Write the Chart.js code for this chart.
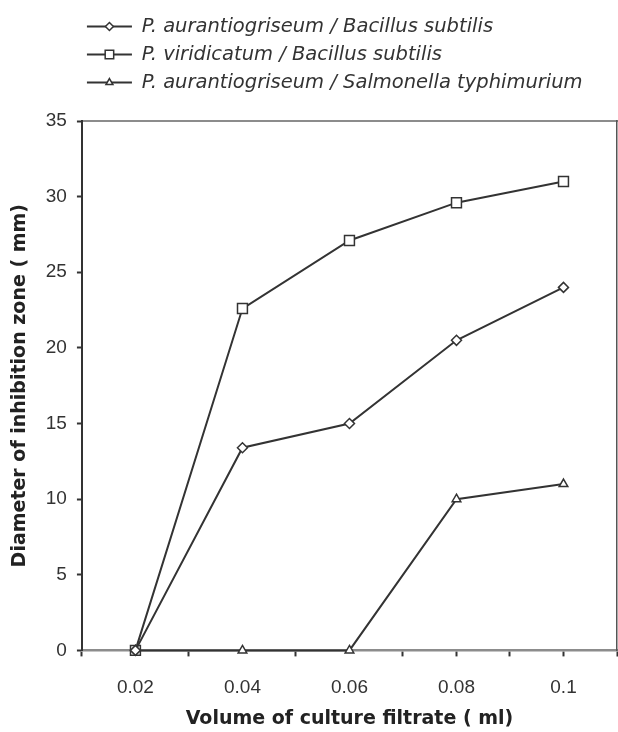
<!DOCTYPE html>
<html>
<head>
<meta charset="utf-8">
<script src="https://cdn.jsdelivr.net/npm/chart.js@4.4.1/dist/chart.umd.min.js"></script>
<style>
  html, body { margin: 0; padding: 0; background: #fff; }
  #wrap { width: 618px; height: 732px; position: relative; }
</style>
</head>
<body>
<div id="wrap"><canvas id="inhibitionChart"></canvas></div>
<script>
// volume of culture filtrate (ml)
const xValues = [0.02, 0.04, 0.06, 0.08, 0.1];
const xTickLabels = ['0.02', '0.04', '0.06', '0.08', '0.1'];
// little tick marks on the x axis (they do not sit on the labels)
const xTickMarks = [0.01, 0.03, 0.05, 0.07, 0.08, 0.09, 0.1, 0.11];

const seriesNames = [
  'P. aurantiogriseum / Bacillus subtilis',
  'P. viridicatum / Bacillus subtilis',
  'P. aurantiogriseum / Salmonella typhimurium'
];
// diameter of inhibition zone (mm)
const aurantioBacillus = [0, 13.4, 15.0, 20.5, 24.0];
const viridicatumBacillus = [0, 22.6, 27.1, 29.6, 31.0];
const aurantioSalmonella = [0, 0, 0, 10.0, 11.0];

const yTicks = [0, 5, 10, 15, 20, 25, 30, 35];

const ink = '#333';
const same = (a, b) => Math.abs(a - b) < 1e-9;
const allXTicks = [...new Set([...xValues, ...xTickMarks].map(v => +v.toFixed(3)))].sort((a, b) => a - b);

const toPoints = (arr) => arr.map((y, i) => ({ x: xValues[i], y: y }));

function series(label, data, pointStyle, radius) {
  return {
    label: label,
    data: toPoints(data),
    borderColor: ink,
    borderWidth: 2,
    pointStyle: pointStyle,
    pointRadius: radius,
    pointBackgroundColor: '#fff',
    pointBorderColor: ink,
    pointBorderWidth: 1.5,
    tension: 0,
    clip: false
  };
}

// draws the line + marker sample in front of each legend text
const legendSamples = {
  id: 'legendSamples',
  afterDraw(chart) {
    const legend = chart.legend;
    if (!legend || !legend.legendHitBoxes) return;
    const ctx = chart.ctx;
    const boxW = legend.options.labels.boxWidth;
    legend.legendHitBoxes.forEach((hb, i) => {
      const ds = chart.data.datasets[i];
      const y = hb.top + hb.height / 2;
      ctx.save();
      ctx.strokeStyle = ink;
      ctx.lineWidth = 2;
      ctx.beginPath();
      ctx.moveTo(hb.left, y);
      ctx.lineTo(hb.left + boxW, y);
      ctx.stroke();
      ctx.fillStyle = '#fff';
      ctx.lineWidth = 1.5;
      Chart.helpers.drawPoint(ctx, {
        pointStyle: ds.pointStyle,
        radius: ds.pointRadius - 1,
        rotation: 0,
        borderWidth: 1.5
      }, hb.left + boxW / 2, y);
      ctx.restore();
    });
  }
};

const ctx = document.getElementById('inhibitionChart');

new Chart(ctx, {
  type: 'line',
  data: {
    datasets: [
      series(seriesNames[0], aurantioBacillus, 'rectRot', 5),
      series(seriesNames[1], viridicatumBacillus, 'rect', 7),
      series(seriesNames[2], aurantioSalmonella, 'triangle', 5)
    ]
  },
  plugins: [legendSamples],
  options: {
    responsive: true,
    maintainAspectRatio: false,
    animation: false,
    layout: {
      autoPadding: false,
      padding: { top: 10, right: 1, bottom: 2, left: 0 }
    },
    plugins: {
      tooltip: { enabled: false },
      legend: {
        position: 'top',
        align: 'start',
        fullSize: false,
        labels: {
          color: ink,
          font: { family: 'DejaVu Sans', size: 19.5, style: 'italic' },
          boxWidth: 45,
          boxHeight: 23,
          padding: 5,
          generateLabels: (chart) => chart.data.datasets.map((ds, i) => ({
            text: ds.label,
            fillStyle: 'transparent',
            strokeStyle: 'transparent',
            lineWidth: 0,
            fontColor: ink,
            datasetIndex: i
          }))
        }
      }
    },
    scales: {
      x: {
        type: 'linear',
        position: 'bottom',
        min: 0.01,
        max: 0.11,
        afterBuildTicks: (axis) => {
          axis.ticks = allXTicks.map(v => ({ value: v }));
        },
        ticks: {
          autoSkip: false,
          maxRotation: 0,
          padding: 0,
          color: ink,
          font: { family: 'Liberation Sans', size: 19, lineHeight: 1.1 },
          // empty first line pushes the label down without widening the axis
          callback: (value) => {
            const i = xValues.findIndex(v => same(v, value));
            return i >= 0 ? ['', xTickLabels[i]] : '';
          }
        },
        grid: {
          drawOnChartArea: false,
          tickLength: 6,
          tickWidth: 2,
          tickColor: (c) => (c.tick && xTickMarks.some(v => same(v, c.tick.value))) ? ink : 'transparent'
        },
        border: { color: '#8c8c8c', width: 2.5 },
        title: {
          display: true,
          text: 'Volume of culture filtrate ( ml)',
          color: '#222',
          font: { family: 'DejaVu Sans', size: 19, weight: 'bold' },
          padding: { top: 9, bottom: 0 }
        }
      },
      xTop: {
        type: 'linear',
        position: 'top',
        min: 0.01,
        max: 0.11,
        ticks: { display: false },
        grid: { drawOnChartArea: false, drawTicks: true, tickLength: 17, tickColor: 'transparent' },
        border: { color: '#8c8c8c', width: 2 }
      },
      y: {
        min: 0,
        max: 35,
        afterBuildTicks: (axis) => {
          axis.ticks = yTicks.map(v => ({ value: v }));
        },
        ticks: {
          padding: 10,
          color: ink,
          font: { family: 'Liberation Sans', size: 19 }
        },
        grid: {
          drawOnChartArea: false,
          tickLength: 5,
          tickWidth: 2,
          tickColor: ink
        },
        border: { color: ink, width: 2 },
        title: {
          display: true,
          text: 'Diameter of inhibition zone ( mm)',
          color: '#222',
          font: { family: 'DejaVu Sans', size: 19, weight: 'bold' },
          padding: { top: 9, bottom: 4 }
        }
      },
      yRight: {
        position: 'right',
        min: 0,
        max: 35,
        ticks: { display: false },
        grid: { drawOnChartArea: false, drawTicks: false },
        border: { color: '#555', width: 1.5 }
      }
    }
  }
});
</script>
</body>
</html>
